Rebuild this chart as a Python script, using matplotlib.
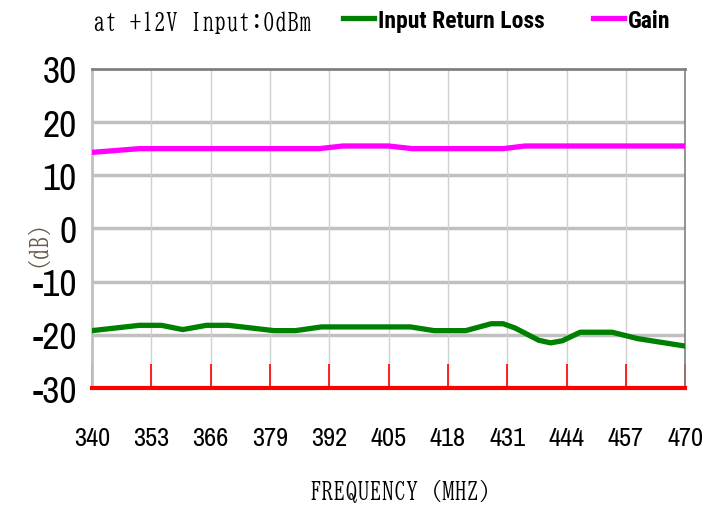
import matplotlib
matplotlib.use('Agg')
import matplotlib.pyplot as plt
from matplotlib.lines import Line2D

plt.rcParams['axes.unicode_minus'] = False

# dados
freq_ticks = [340, 353, 366, 379, 392, 405, 418, 431, 444, 457, 470]
db_ticks = [-30, -20, -10, 0, 10, 20, 30]

rl_freq = [340, 350.4, 355.2, 359.9, 365.1, 369.9, 379.9, 384.6, 390.3, 409.8,
           415.0, 421.9, 427.5, 430.1, 432.7, 437.9, 440.5, 443.1, 447.0, 454.0,
           459.6, 470]
rl_db = [-19.2, -18.2, -18.2, -19.0, -18.2, -18.2, -19.2, -19.2, -18.5, -18.5,
         -19.2, -19.2, -17.9, -17.9, -18.7, -21.0, -21.5, -21.1, -19.5, -19.5,
         -20.7, -22.1]

gain_freq = [340, 350.4, 389.8, 395.0, 405.0, 410.2, 430.1, 434.9, 470]
gain_db = [14.3, 15.0, 15.0, 15.5, 15.5, 15.0, 15.0, 15.5, 15.5]

narrow = ['Archivo Narrow', 'DejaVu Sans']
narrow_bold = ['Roboto Condensed', 'DejaVu Sans']
mincho = ['BIZ UDMincho', 'DejaVu Serif']

fig = plt.figure(figsize=(7.02, 5.06), dpi=100)
ax = fig.add_axes([0.131, 0.231, 0.845, 0.631])

ax.plot(rl_freq, rl_db, color='#008000', lw=3.8, zorder=3)
ax.plot(gain_freq, gain_db, color='#ff00ff', lw=3.8, zorder=3)

ax.set_xlim(340, 470)
ax.set_ylim(-30, 30)
ax.set_xticks(freq_ticks)
ax.set_yticks(db_ticks)

# grade
for y in db_ticks[1:-1]:
    ax.axhline(y, color='#c0c0c0', lw=2.5, zorder=1)
for x in freq_ticks[1:-1]:
    ax.axvline(x, color='#d0d0d0', lw=1, zorder=1)

ax.spines['top'].set_color('#808080')
ax.spines['top'].set_linewidth(2)
ax.spines['right'].set_color('#808080')
ax.spines['right'].set_linewidth(1.2)
ax.spines['left'].set_color('#c0c0c0')
ax.spines['left'].set_linewidth(2)
ax.spines['bottom'].set_color('#ff0000')
ax.spines['bottom'].set_linewidth(3)

ax.tick_params(axis='x', direction='in', length=17, width=1.2, color='#ff0000',
               pad=27)
ax.tick_params(axis='y', length=0, pad=11)

for lab in ax.get_xticklabels():
    lab.set_fontfamily(narrow)
    lab.set_fontsize(19)
for lab in ax.get_yticklabels():
    lab.set_fontfamily(narrow)
    lab.set_fontsize(27)

fig.text(0.036, 0.542, '（dB）', rotation=90, ha='center', va='center',
         fontsize=17, color='#6b5a4a', family=mincho)
fig.text(0.579, 0.028, 'FREQUENCY（MHZ）', ha='center', va='center',
         fontsize=17.5, family=mincho)
fig.text(0.132, 0.956, 'at +12V Input:0dBm', ha='left', va='center',
         fontsize=17.5, family=mincho)

leg_kw = dict(loc='center left', frameon=False, handlelength=1.3,
              handletextpad=0.15, borderpad=0, borderaxespad=0,
              prop={'family': narrow_bold, 'weight': 'bold', 'size': 17})
fig.legend([Line2D([], [], color='#008000', lw=3.8)], ['Input Return Loss'],
           bbox_to_anchor=(0.489, 0.958), **leg_kw)
fig.legend([Line2D([], [], color='#ff00ff', lw=3.8)], ['Gain'],
           bbox_to_anchor=(0.845, 0.958), **leg_kw)

fig.savefig('out.png', dpi=100)
